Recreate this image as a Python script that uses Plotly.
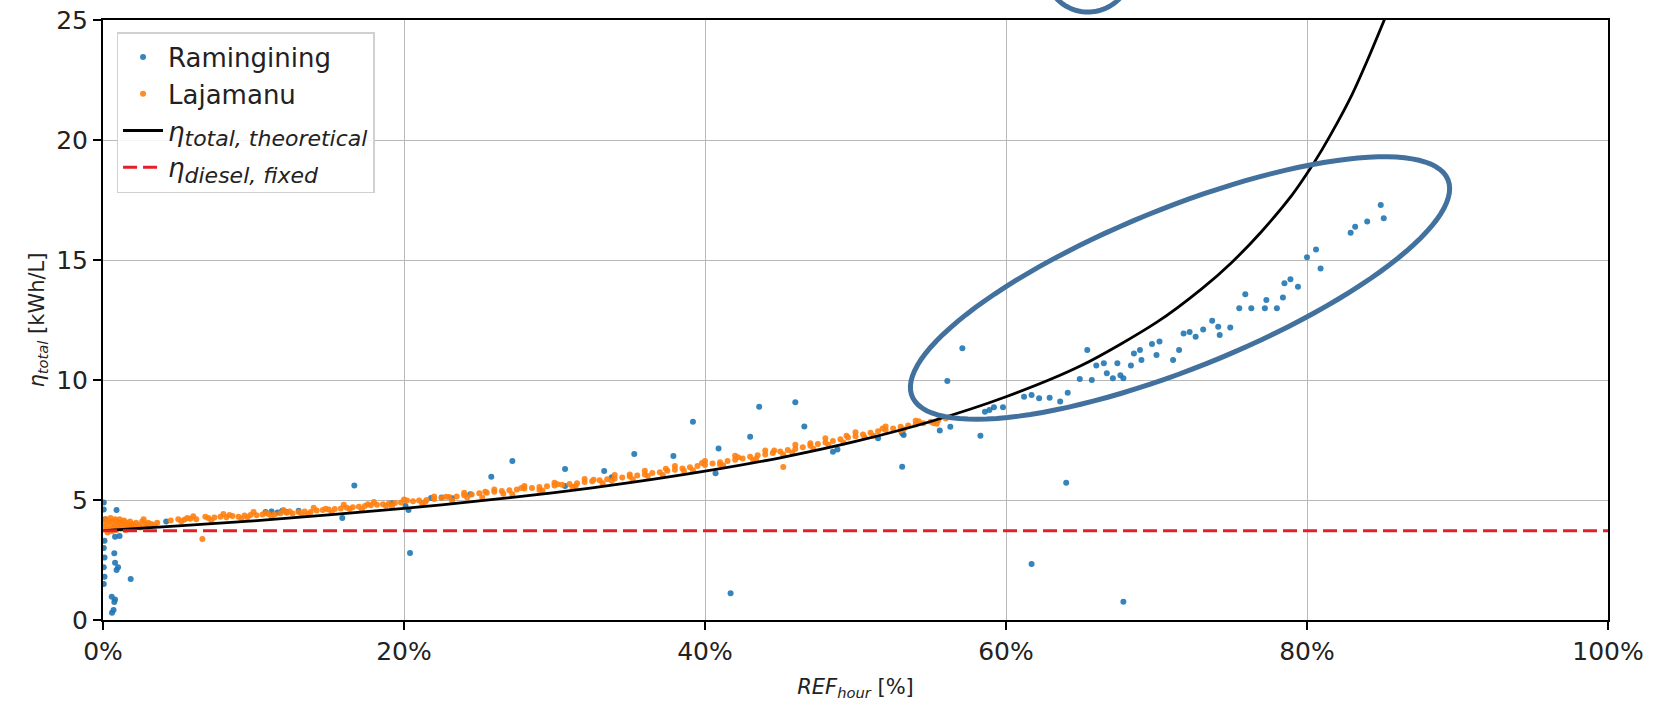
import numpy as np
import plotly.graph_objects as go

# ---------------- data ----------------
# Ramingining (blue) : REF_hour [%], eta_total [kWh/L]
ram_x = [0.05, 0.05, 0.1, 0.05, 0.1, 0.05, 0.1, 0.05, 0.15,
         0.9, 0.8, 1.1, 0.75, 0.8, 0.9, 1.0, 1.84, 0.58, 0.75, 0.8, 0.7, 0.6,
         4.2, 10.8, 11.2, 11.6, 11.9, 12.2, 13.0, 15.9, 16.7, 19.2, 20.3, 20.4, 20.1,
         21.8, 22.5, 23.2, 24.4, 25.8, 27.2, 30.7, 30.7, 33.3, 33.8, 35.3, 37.9, 39.2,
         40.9, 40.7, 41.7, 43.0, 43.6, 46.0, 46.6, 48.5, 48.8, 51.5, 53.1, 53.2, 53.1,
         55.6, 56.3, 56.1, 57.1, 58.3, 58.6, 59.2, 59.8, 58.9, 61.2, 61.7, 62.2, 62.9,
         63.6, 64.1, 64.0, 61.7, 67.8, 64.9, 65.4, 65.7, 66.0, 66.5, 66.7, 67.1, 67.4,
         67.6, 67.8, 68.3, 68.5, 68.9, 69.0, 69.7, 70.0, 70.2, 71.1, 71.5, 71.8, 72.2,
         72.6, 73.1, 73.7, 74.1, 74.2, 74.9, 75.5, 75.9, 76.3, 77.2, 77.3, 78.0, 78.4,
         78.5, 78.9, 79.4, 80.0, 80.6, 80.9, 82.9, 83.2, 84.0, 84.9, 85.1]
ram_y = [4.9, 4.6, 3.3, 3.0, 2.6, 2.2, 1.8, 1.5, 4.2,
         4.58, 3.47, 3.5, 2.78, 2.39, 2.08, 2.2, 1.71, 0.97, 0.75, 0.85, 0.42, 0.3,
         4.1, 4.5, 4.52, 4.48, 4.55, 4.5, 4.55, 4.25, 5.6, 4.86, 4.58, 2.79, 4.75,
         5.08, 5.1, 5.07, 5.24, 5.97, 6.63, 6.29, 5.58, 6.21, 5.95, 6.92, 6.83, 8.26,
         7.15, 6.11, 1.11, 7.64, 8.89, 9.07, 8.06, 7.01, 7.1, 7.57, 6.39, 7.71, 7.78,
         7.9, 8.05, 9.96, 11.32, 7.68, 8.68, 8.86, 8.86, 8.75, 9.3, 9.38, 9.24, 9.26,
         9.1, 9.47, 5.72, 2.33, 0.76, 10.04, 11.25, 10.0, 10.6, 10.7, 10.28, 10.07, 10.7,
         10.2, 10.07, 10.6, 11.1, 11.25, 10.83, 11.5, 11.04, 11.6, 10.83, 11.25, 11.94, 12.0,
         11.8, 12.1, 12.47, 12.22, 11.88, 12.19, 12.99, 13.57, 12.99, 12.99, 13.33, 12.99, 13.44,
         14.03, 14.2, 13.89, 15.11, 15.44, 14.65, 16.14, 16.39, 16.6, 17.29, 16.74]

# Lajamanu (orange)
laj_x = [0.1, 0.2, 0.3, 0.4, 0.5, 0.6, 0.7, 0.8, 0.9, 1.0, 1.1, 1.2, 1.3, 1.4, 1.5,
         1.6, 1.7, 1.8, 1.9, 2.0, 2.2, 2.4, 2.6, 2.8, 3.0, 3.2, 0.3, 0.6, 0.9, 1.2,
         1.5, 1.8, 2.1, 2.5, 0.2, 0.5, 0.8, 1.1, 1.4, 3.4, 3.6, 2.7, 2.9,
         4.5, 5.0, 5.4, 5.8, 6.2, 6.6, 7.0, 7.4, 7.8, 8.2, 8.6, 9.0, 9.4, 9.8, 10.2,
         10.6, 11.0, 11.4, 11.8, 12.2, 12.6, 13.0, 13.4, 13.8, 14.2, 14.6, 15.0, 15.4,
         15.8, 16.2, 16.6, 17.0, 17.4, 17.8, 18.2, 18.6, 19.0, 19.4, 19.8, 20.6, 21.0,
         21.5, 22.0, 22.5, 23.0, 23.5, 24.0, 24.5, 25.0, 25.5, 26.0, 26.5, 27.0, 27.5,
         28.0, 28.5, 29.0, 29.5, 30.0, 30.5, 31.0, 31.5, 32.0, 32.5, 33.0, 33.5, 34.0,
         34.5, 35.0, 35.5, 36.0, 36.5, 37.0, 37.5, 38.0, 38.5, 39.0, 39.5, 40.0, 40.5,
         41.0, 41.5, 42.0, 42.5, 43.0, 43.5, 44.0, 44.5, 45.0, 45.5, 46.0, 46.5, 47.0,
         47.5, 48.0, 48.5, 49.0, 49.5, 50.0, 50.5, 51.0, 51.5, 52.0, 52.5, 53.0, 53.5,
         54.0, 54.5, 55.0, 55.5, 56.0,
         5.2, 7.2, 9.2, 11.2, 13.2, 15.2, 17.2, 19.2, 21.2, 23.2, 25.2, 27.2, 29.2,
         31.2, 33.2, 35.2, 37.2, 39.2, 41.2, 43.2, 45.2, 47.2, 49.2, 51.2, 53.2, 55.2,
         6.0, 8.0, 10.0, 12.0, 14.0, 16.0, 18.0, 20.0, 22.0, 24.0, 26.0, 28.0, 30.0,
         32.0, 34.0, 36.0, 38.0, 40.0, 42.0, 44.0, 45.2, 46.0, 48.0, 50.0, 52.0, 54.0,
         5.6, 6.8, 8.4, 9.6, 10.8, 12.4, 13.6, 14.8, 16.4, 17.6, 18.8, 20.2, 21.4,
         22.8, 24.2, 25.4, 26.6, 27.8, 29.0, 30.2, 31.4, 32.6, 33.8, 35.0, 36.2, 37.4,
         38.6, 39.8, 41.0, 42.2, 43.4, 44.6, 45.8, 47.0, 48.2, 49.4, 50.6, 51.8, 53.0,
         54.2, 55.4]
laj_y = [3.9, 4.05, 3.8, 4.1, 3.95, 4.15, 3.85, 4.0, 4.1, 3.9, 4.05, 3.95, 4.1, 3.85, 4.0,
         4.05, 3.9, 4.1, 3.95, 4.0, 4.05, 3.95, 4.1, 4.0, 4.05, 4.0, 3.65, 3.7, 3.75, 3.8,
         3.75, 3.85, 3.9, 3.85, 4.2, 4.25, 4.2, 4.2, 4.15, 3.95, 4.05, 4.2, 3.9,
         4.15, 4.2, 4.18, 4.22, 4.2, 3.38, 4.25, 4.27, 4.3, 4.28, 4.33, 4.3, 4.35, 4.38, 4.36,
         4.4, 4.42, 4.4, 4.45, 4.47, 4.44, 4.5, 4.52, 4.5, 4.56, 4.58, 4.6, 4.62,
         4.65, 4.68, 4.7, 4.72, 4.75, 4.78, 4.8, 4.82, 4.85, 4.88, 4.9, 4.95, 4.98,
         5.0, 5.04, 5.08, 5.12, 5.15, 5.2, 5.23, 5.28, 5.3, 5.34, 5.38, 5.41, 5.44,
         5.48, 5.5, 5.54, 5.57, 5.6, 5.64, 5.67, 5.7, 5.75, 5.78, 5.82, 5.86, 5.9,
         5.94, 5.98, 6.02, 6.06, 6.12, 6.16, 6.22, 6.26, 6.31, 6.36, 6.42, 6.46, 6.52,
         6.57, 6.62, 6.68, 6.73, 6.8, 6.86, 6.9, 6.96, 7.02, 7.08, 7.13, 7.2, 7.26,
         7.33, 7.4, 7.46, 7.53, 7.6, 7.66, 7.73, 7.8, 7.86, 7.92, 7.98, 8.05, 8.1,
         8.15, 8.2, 8.26, 8.32, 8.4,
         4.1, 4.15, 4.22, 4.3, 4.38, 4.48, 4.6, 4.72, 4.85, 4.97, 5.1, 5.24, 5.4,
         5.54, 5.7, 5.86, 6.04, 6.24, 6.45, 6.66, 6.9, 7.14, 7.4, 7.68, 7.95, 8.2,
         4.32, 4.42, 4.5, 4.58, 4.68, 4.8, 4.92, 5.02, 5.15, 5.3, 5.44, 5.58, 5.72,
         5.88, 6.04, 6.22, 6.42, 6.62, 6.84, 7.06, 6.37, 7.3, 7.57, 7.82, 8.06, 8.3,
         4.25, 4.3, 4.38, 4.28, 4.46, 4.52, 4.42, 4.64, 4.62, 4.82, 4.76, 4.98, 4.92,
         5.14, 5.1, 5.34, 5.26, 5.5, 5.42, 5.66, 5.58, 5.84, 5.8, 6.06, 6.0, 6.3,
         6.22, 6.54, 6.48, 6.78, 6.72, 7.06, 6.98, 7.36, 7.3, 7.68, 7.62, 7.98, 7.9,
         8.28, 8.18]

# theoretical curve
theo_x = [0, 5, 10, 15, 20, 25, 30, 35, 40, 45, 50, 55, 60, 65, 70, 73, 75, 77, 79,
          80, 81, 82, 83, 84, 85.2]
theo_y = [3.72, 3.92, 4.13, 4.38, 4.65, 4.96, 5.31, 5.72, 6.2, 6.76, 7.44, 8.27, 9.3,
          10.6, 12.4, 13.8, 14.9, 16.2, 17.7, 18.6, 19.6, 20.7, 21.9, 23.3, 25.1]

# fixed diesel efficiency
diesel_x = [0, 100]
diesel_y = [3.72, 3.72]

x_ticks = [0, 20, 40, 60, 80, 100]
x_ticklabels = ["0%", "20%", "40%", "60%", "80%", "100%"]
y_ticks = [0, 5, 10, 15, 20, 25]

# ---------------- figure ----------------
FONT = "DejaVu Sans"
W, H = 1656, 701
ML, MR, MT, MB = 103, 48, 20, 81
PW, PH = W - ML - MR, H - MT - MB

fig = go.Figure()
fig.add_trace(go.Scatter(x=ram_x, y=ram_y, mode="markers", name="Ramingining",
                         marker=dict(color="#1f77b4", size=6, opacity=0.9, line=dict(width=0))))
fig.add_trace(go.Scatter(x=laj_x, y=laj_y, mode="markers", name="Lajamanu",
                         marker=dict(color="#ff7f0e", size=6, opacity=0.9, line=dict(width=0))))
fig.add_trace(go.Scatter(x=theo_x, y=theo_y, mode="lines",
                         name="<i>η</i><sub><i><span style='font-size:22px'>total, theoretical</span></i></sub>",
                         line=dict(color="black", width=2.8, shape="spline", smoothing=0.8)))
fig.add_trace(go.Scatter(x=diesel_x, y=diesel_y, mode="lines",
                         name="<i>η</i><sub><i><span style='font-size:22px'>diesel, fixed</span></i></sub>",
                         line=dict(color="#e3202a", width=3, dash="14px,6px")))


def ellipse_path(cx, cy, a, b, theta_deg, n=120):
    t = np.linspace(0, 2 * np.pi, n)
    th = np.deg2rad(theta_deg)
    px = cx + a * np.cos(t) * np.cos(th) - b * np.sin(t) * np.sin(th)
    py = cy - (a * np.cos(t) * np.sin(th) + b * np.sin(t) * np.cos(th))
    xp = (px - ML) / PW
    yp = (H - MB - py) / PH
    pts = ["%s%.5f,%.5f" % ("M" if i == 0 else "L", xp[i], yp[i]) for i in range(n)]
    return " ".join(pts) + " Z"


ell_color = "#41719c"
fig.add_shape(type="path", xref="paper", yref="paper",
              path=ellipse_path(1180, 288, 289, 80, 22), line=dict(color=ell_color, width=5))
fig.add_shape(type="path", xref="paper", yref="paper",
              path=ellipse_path(1088, -28, 42, 40, 0), line=dict(color=ell_color, width=5))

axis_common = dict(showline=True, mirror=True, linecolor="black", linewidth=2,
                   ticks="outside", ticklen=8, tickwidth=1.5, tickcolor="black",
                   showgrid=True, gridcolor="#b8b8b8", gridwidth=1.4, zeroline=False,
                   automargin=False,
                   tickfont=dict(family=FONT, size=25, color="#222222"))

fig.update_layout(
    width=W, height=H,
    margin=dict(l=ML, r=MR, t=MT, b=MB, pad=0, autoexpand=False),
    paper_bgcolor="white", plot_bgcolor="white",
    font=dict(family=FONT, color="#222222"),
    showlegend=True,
    legend=dict(x=0.009, y=0.98, xanchor="left", yanchor="top",
                bgcolor="rgba(255,255,255,0.85)", bordercolor="#d0d0d0", borderwidth=1.5,
                font=dict(family=FONT, size=26, color="#222222"), itemwidth=40),
    xaxis=dict(range=[0, 100], tickvals=x_ticks, ticktext=x_ticklabels,
               title=dict(text="<i>REF</i><sub><i>hour</i></sub> [%]",
                          font=dict(family=FONT, size=21), standoff=14),
               **axis_common),
    yaxis=dict(range=[0, 25], tickvals=y_ticks,
               title=dict(text="<i>η</i><sub><i>total</i></sub> [kWh/L]",
                          font=dict(family=FONT, size=21), standoff=6),
               **axis_common),
)

fig.write_html("out.html", config={"displayModeBar": False},
               post_script="document.body.style.margin='0';")
